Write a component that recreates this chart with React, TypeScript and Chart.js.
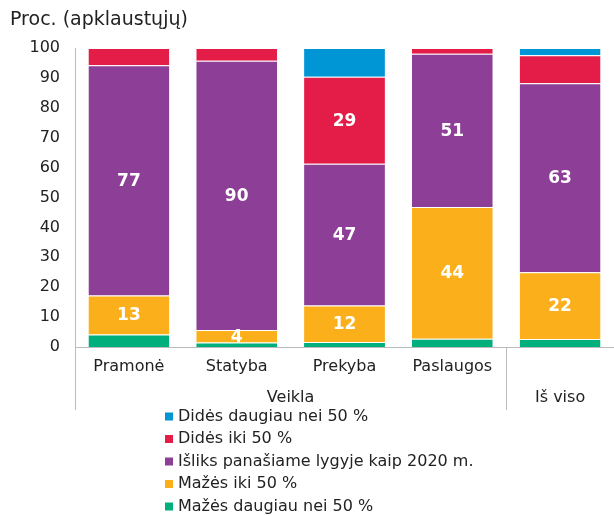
import React, { useEffect, useRef } from 'react';
import { Chart, registerables } from 'chart.js';

Chart.register(...registerables);

const categories = ['Pramonė', 'Statyba', 'Prekyba', 'Paslaugos', 'Iš viso'];
const categoryTickLabels = ['Pramonė', 'Statyba', 'Prekyba', 'Paslaugos', ''];
const groupLabels = ['Veikla', 'Iš viso'];
const groupStarts = [0, 4];
const groupEnds = [3, 4];
const yTicks = [0, 10, 20, 30, 40, 50, 60, 70, 80, 90, 100];
const yTitle = 'Proc. (apklaustųjų)';

const seriesNames = [
  'Mažės daugiau nei 50 %',
  'Mažės iki 50 %',
  'Išliks panašiame lygyje kaip 2020 m.',
  'Didės iki 50 %',
  'Didės daugiau nei 50 %',
];
const decreaseMore = [4.2, 1.5, 1.7, 2.8, 2.7];
const decreaseUpTo = [13, 4.2, 12.2, 44, 22.3];
const sameLevel = [77, 90, 47.4, 51.3, 63.2];
const increaseUpTo = [5.8, 4.3, 29.1, 1.9, 9.4];
const increaseMore = [0, 0, 9.6, 0, 2.4];
const seriesColors = ['#00AF7C', '#FBAF1A', '#8D3E96', '#E31D48', '#0095D5'];
// minimum value for which a value label is printed in each series (null = never)
const labelMin: (number | null)[] = [null, 4, 4, 20, null];

const FONT = '"DejaVu Sans", Verdana, sans-serif';

const overlayPlugin = {
  id: 'overlay',
  afterDatasetsDraw(chart: any) {
    const ctx = chart.ctx;
    ctx.save();
    ctx.fillStyle = '#ffffff';
    ctx.font = `bold 17px ${FONT}`;
    ctx.textAlign = 'center';
    ctx.textBaseline = 'middle';
    chart.data.datasets.forEach((ds: any, di: number) => {
      const min = labelMin[di];
      if (min === null) return;
      const meta = chart.getDatasetMeta(di);
      meta.data.forEach((el: any, i: number) => {
        const v = ds.data[i];
        if (v >= min) {
          ctx.fillText(String(Math.round(v)), el.x, (el.y + el.base) / 2 + 1);
        }
      });
    });
    ctx.restore();
  },
  afterDraw(chart: any) {
    const ctx = chart.ctx;
    const x = chart.scales.x;
    const area = chart.chartArea;
    ctx.save();
    // y title
    ctx.fillStyle = '#222';
    ctx.font = `19px ${FONT}`;
    ctx.textAlign = 'left';
    ctx.textBaseline = 'middle';
    ctx.fillText(yTitle, 10, 20);
    // separators & group labels
    ctx.font = `16px ${FONT}`;
    ctx.strokeStyle = '#bbbbbb';
    ctx.lineWidth = 1;
    const half = (x.getPixelForValue(1) - x.getPixelForValue(0)) / 2;
    const lineBottom = area.bottom + 63;
    const bounds: number[] = [];
    groupStarts.forEach((s, gi) => {
      const left = x.getPixelForValue(s) - half;
      const right = x.getPixelForValue(groupEnds[gi]) + half;
      bounds.push(left);
      ctx.textAlign = 'center';
      ctx.fillText(groupLabels[gi], (left + right) / 2, area.bottom + 51);
    });
    bounds.forEach((b) => {
      const px = Math.round(b) + 0.5;
      ctx.beginPath();
      ctx.moveTo(px, area.bottom);
      ctx.lineTo(px, lineBottom);
      ctx.stroke();
    });
    // legend (top to bottom = top of stack first)
    ctx.textAlign = 'left';
    for (let k = 0; k < seriesNames.length; k++) {
      const di = seriesNames.length - 1 - k;
      const cy = 416.5 + k * 22.5;
      ctx.fillStyle = seriesColors[di];
      ctx.fillRect(165, cy - 4, 8, 8);
      ctx.fillStyle = '#222';
      ctx.fillText(seriesNames[di], 178, cy);
    }
    ctx.restore();
  },
};

export default function App() {
  const ref = useRef<HTMLCanvasElement>(null);
  useEffect(() => {
    if (!ref.current) return;
    const seriesData = [decreaseMore, decreaseUpTo, sameLevel, increaseUpTo, increaseMore];
    const chart = new Chart(ref.current, {
      type: 'bar',
      data: {
        labels: categories,
        datasets: seriesData.map((d, i) => ({
          label: seriesNames[i],
          data: d,
          backgroundColor: seriesColors[i],
          borderColor: 'rgba(255,255,255,0.35)',
          borderWidth: { top: 1, right: 0, bottom: 0, left: 0 },
          borderSkipped: 'bottom',
          barPercentage: 0.75,
          categoryPercentage: 1,
        })),
      },
      options: {
        animation: false,
        responsive: true,
        maintainAspectRatio: false,
        layout: { padding: { top: 48, right: -3, bottom: 0, left: 0 } },
        plugins: { legend: { display: false }, tooltip: { enabled: false }, title: { display: false } },
        scales: {
          x: {
            stacked: true,
            grid: { display: false, drawTicks: false },
            border: { display: true, color: '#bbbbbb' },
            ticks: {
              color: '#222',
              font: { family: FONT, size: 16 },
              padding: 10,
              maxRotation: 0,
              autoSkip: false,
              callback: (_v: any, i: number) => categoryTickLabels[i],
            },
            afterFit: (s: any) => { s.height = 169; },
          },
          y: {
            stacked: true,
            min: 0,
            max: 100,
            grid: { display: false, drawTicks: false },
            border: { display: true, color: '#bbbbbb' },
            afterBuildTicks: (s: any) => { s.ticks = yTicks.map((v) => ({ value: v })); },
            ticks: { color: '#222', font: { family: FONT, size: 16 }, padding: 15 },
            afterFit: (s: any) => { s.width = 75; },
          },
        },
      },
      plugins: [overlayPlugin],
    });
    return () => chart.destroy();
  }, []);
  return (
    <div style={{ position: 'fixed', left: 0, top: 0, width: 614, height: 516 }}>
      <canvas ref={ref} />
    </div>
  );
}
